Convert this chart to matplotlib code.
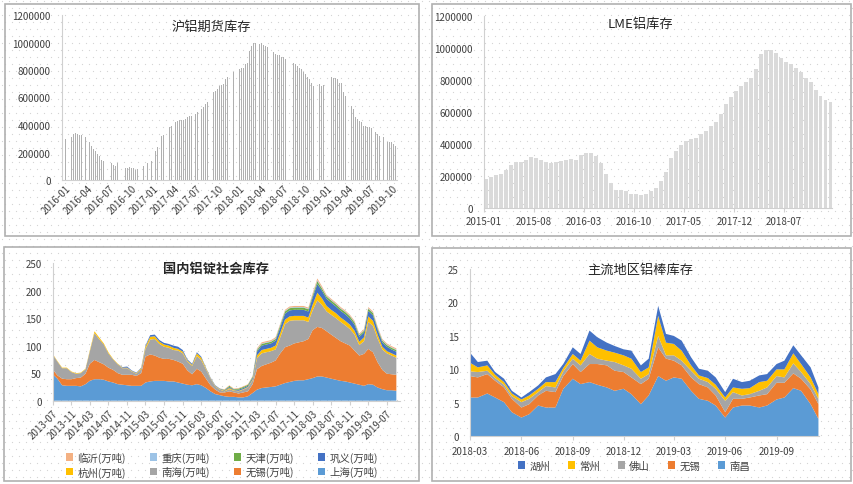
import numpy as np
import pandas as pd
import matplotlib

matplotlib.use("Agg")
import matplotlib.pyplot as plt
import matplotlib.dates as mdates
from matplotlib.patches import Rectangle, Patch
from matplotlib.ticker import FixedLocator, StrMethodFormatter

plt.rcParams["font.family"] = ["Noto Sans CJK SC", "DejaVu Sans"]
plt.rcParams["axes.unicode_minus"] = False

W, H = 854, 485

# ---- 沪铝期货库存 (thousand tonnes, 0 = no bar that week)
shfe_kt = [
    298, 0, 0, 310, 334, 341, 334, 329, 327, 0,
    310, 0, 274, 249, 225, 213, 189, 172, 148, 140,
    0, 0, 0, 121, 111, 104, 123, 0, 0, 0,
    85, 90, 94, 90, 85, 73, 80, 0, 0, 104,
    0, 123, 0, 140, 0, 213, 237, 0, 322, 327,
    0, 0, 383, 395, 0, 419, 431, 436, 436, 436,
    443, 455, 462, 467, 0, 479, 496, 0, 516, 528,
    552, 564, 0, 0, 637, 649, 661, 685, 690, 697,
    734, 746, 0, 0, 782, 0, 0, 806, 811, 818,
    843, 850, 939, 976, 995, 995, 0, 988, 993, 981,
    971, 964, 0, 0, 932, 915, 908, 908, 898, 891,
    879, 0, 0, 0, 850, 843, 830, 818, 806, 782,
    770, 751, 734, 709, 685, 0, 0, 697, 685, 690,
    0, 0, 0, 746, 741, 741, 734, 709, 705, 637,
    613, 0, 0, 540, 516, 455, 443, 431, 419, 395,
    390, 383, 383, 375, 0, 351, 334, 322, 0, 315,
    0, 278, 278, 274, 262, 249,
]
shfe_dates = pd.date_range("2016-01-01", "2019-10-15", periods=len(shfe_kt))

# ---- LME铝库存 (thousand tonnes)
lme_kt = [
    183, 194, 204, 215, 235, 267, 287, 287, 298, 319,
    313, 298, 287, 283, 287, 292, 298, 304, 298, 329,
    345, 345, 325, 280, 215, 155, 115, 112, 105, 85,
    88, 80, 88, 105, 125, 170, 225, 310, 355, 395,
    418, 430, 440, 460, 480, 510, 540, 590, 650, 695,
    730, 760, 790, 815, 870, 960, 990, 988, 970, 940,
    915, 900, 875, 848, 815, 785, 735, 700, 678, 663,
]
lme_dates = pd.date_range("2015-01-11", "2019-01-15", periods=len(lme_kt))

# ---- 国内铝锭社会库存 (万吨, monthly from 2013-07)
social_dates = pd.date_range("2013-07-01", periods=75, freq="MS")
shanghai = [
    48, 40, 28, 27, 27, 27, 26, 30, 36, 39, 39, 38, 35, 33, 30, 29, 28, 27, 27, 27,
    33, 35, 36, 36, 36, 35, 35, 33, 31, 29, 28, 30, 28, 23, 17, 12, 10, 8, 7, 7,
    6, 6, 8, 14, 20, 23, 24, 25, 26, 29, 32, 34, 36, 37, 37, 39, 41, 44, 44, 42,
    40, 38, 36, 35, 33, 31, 29, 27, 30, 29, 24, 21, 19, 19, 18,
]
wuxi = [
    9, 6, 12, 12, 12, 14, 16, 19, 31, 35, 31, 28, 25, 23, 20, 18, 19, 20, 18, 23,
    47, 49, 46, 42, 40, 41, 39, 38, 36, 26, 20, 28, 25, 17, 11, 8, 5, 7, 10, 8,
    7, 9, 9, 16, 37, 40, 42, 44, 47, 57, 65, 66, 68, 69, 71, 73, 87, 90, 88, 84,
    80, 76, 72, 69, 67, 60, 53, 58, 64, 59, 46, 35, 30, 29, 29,
]
nanhai = [
    27, 25, 19, 20, 13, 8, 8, 8, 22, 49, 42, 36, 26, 19, 16, 12, 12, 6, 4, 7,
    14, 27, 30, 25, 22, 20, 18, 20, 19, 16, 15, 23, 21, 17, 12, 6, 5, 2, 4, 3,
    4, 5, 7, 7, 20, 23, 22, 21, 20, 29, 42, 45, 42, 40, 38, 31, 36, 48, 42, 36,
    36, 36, 35, 33, 30, 29, 19, 23, 49, 48, 43, 37, 37, 34, 31,
]
hangzhou = [
    1, 1, 1, 1, 1, 1, 1, 1, 2, 3, 3, 2, 2, 1, 1, 1, 1, 1, 1, 2,
    4, 5, 5, 4, 4, 4, 4, 3, 3, 2, 2, 5, 4, 2, 1, 1, 1, 1, 2, 1,
    1, 1, 1, 2, 5, 6, 6, 6, 7, 8, 8, 8, 8, 8, 8, 8, 10, 14, 12, 10,
    9, 9, 8, 8, 8, 7, 6, 7, 10, 9, 7, 5, 4, 4, 4,
]
gongyi = [
    0, 0, 0, 0, 0, 0, 0, 0, 0, 0, 0, 0, 0, 0, 0, 1, 2, 1, 1, 1,
    2, 3, 3, 3, 3, 3, 4, 4, 3, 2, 2, 2, 2, 1, 1, 1, 1, 1, 2, 1,
    2, 2, 2, 3, 7, 8, 8, 8, 9, 10, 11, 11, 11, 11, 11, 11, 13, 16, 14, 13,
    13, 12, 12, 12, 11, 11, 9, 9, 10, 10, 9, 8, 8, 7, 7,
]
tianjin = [
    0, 0, 0, 0, 0, 0, 0, 0, 0, 0, 0, 0, 0, 0, 0, 0, 0, 0, 0, 0,
    0, 0, 0, 0, 0, 0, 0, 0, 0, 0, 0, 0, 0, 0, 0, 0, 0, 1, 2, 1,
    2, 2, 2, 2, 3, 3, 3, 3, 3, 4, 4, 4, 4, 4, 4, 4, 4, 5, 4, 4,
    4, 4, 4, 4, 4, 4, 3, 3, 4, 4, 3, 3, 3, 3, 3,
]
chongqing = [
    0, 0, 0, 0, 0, 0, 0, 0, 0, 0, 0, 0, 0, 0, 0, 0, 0, 0, 0, 0,
    0, 0, 0, 0, 0, 0, 0, 0, 0, 0, 0, 0, 0, 0, 0, 0, 0, 0, 0, 0,
    0, 0, 0, 0, 1, 1, 1, 1, 1, 1, 1, 1, 1, 1, 1, 1, 1, 2, 1, 1,
    1, 1, 1, 1, 1, 1, 1, 1, 1, 1, 1, 1, 1, 1, 1,
]
linyi = [
    0, 0, 0, 0, 0, 0, 0, 0, 0, 0, 0, 0, 0, 0, 0, 0, 0, 0, 0, 0,
    0, 0, 0, 0, 0, 0, 0, 0, 0, 0, 0, 0, 0, 0, 0, 0, 0, 1, 1, 1,
    1, 1, 1, 1, 2, 2, 2, 2, 2, 2, 2, 2, 2, 2, 2, 2, 3, 3, 3, 2,
    2, 2, 2, 2, 2, 2, 2, 2, 2, 2, 2, 2, 2, 2, 2,
]
social_names = ["上海(万吨)", "无锡(万吨)", "南海(万吨)", "杭州(万吨)",
                "巩义(万吨)", "天津(万吨)", "重庆(万吨)", "临沂(万吨)"]
social_colors = ["#5b9bd5", "#ed7d31", "#a5a5a5", "#ffc000",
                 "#4472c4", "#70ad47", "#9dc3e6", "#f4b183"]

# ---- 主流地区铝棒库存 (万吨, twice a month from 2018-03)
bar_dates = pd.date_range("2018-03-01", periods=42, freq="SMS")
nanchang = [
    5.8, 5.8, 6.4, 5.8, 5.1, 3.6, 2.8, 3.3, 4.6, 4.3, 4.3, 7.1, 8.6, 7.8,
    8.1, 7.7, 7.3, 6.8, 7.1, 6.3, 4.8, 6.1, 9.0, 8.3, 8.8, 8.6, 6.8, 5.6,
    5.3, 4.6, 2.8, 4.3, 4.6, 4.6, 4.3, 4.6, 5.5, 5.8, 7.2, 6.8, 4.8, 2.6,
]
wuxi_bar = [
    3.2, 3.0, 2.9, 2.5, 2.2, 2.0, 1.5, 1.5, 1.5, 2.5, 2.3, 1.9, 2.2, 1.8,
    2.7, 3.1, 3.3, 3.0, 2.5, 2.5, 3.0, 2.5, 4.3, 3.3, 2.5, 2.0, 2.0, 2.2,
    2.0, 1.5, 0.8, 1.3, 1.0, 1.2, 1.8, 1.7, 2.5, 2.2, 2.2, 1.8, 2.2, 2.2,
]
foshan = [
    0.7, 0.8, 0.5, 0.4, 0.4, 0.4, 0.8, 0.8, 0.5, 0.7, 0.7, 0.7, 0.8, 1.0,
    1.5, 0.8, 0.7, 1.3, 1.0, 1.3, 0.8, 0.7, 1.7, 0.5, 0.8, 0.7, 1.0, 0.8,
    0.8, 1.0, 1.7, 1.0, 0.5, 0.5, 0.7, 1.0, 1.0, 0.8, 1.5, 1.0, 0.8, 0.8,
]
changzhou = [
    1.3, 0.7, 0.8, 0.5, 0.4, 0.4, 0.4, 0.5, 0.5, 0.6, 0.8, 0.5, 0.7, 0.7,
    2.0, 1.7, 1.5, 1.4, 1.5, 1.5, 1.0, 1.0, 3.0, 1.9, 1.7, 1.5, 0.8, 0.5,
    0.6, 0.6, 0.5, 0.7, 1.0, 0.9, 1.3, 1.0, 1.0, 1.2, 1.5, 1.2, 1.0, 0.7,
]
huzhou = [
    1.5, 0.8, 0.7, 0.4, 0.5, 0.4, 0.3, 0.5, 0.5, 0.7, 1.2, 0.6, 1.0, 1.0,
    1.5, 1.5, 1.2, 1.0, 0.9, 1.2, 1.0, 1.3, 1.5, 1.3, 1.2, 1.5, 1.2, 1.0,
    1.1, 1.1, 0.8, 1.3, 1.0, 1.1, 1.0, 1.0, 0.8, 1.3, 1.2, 1.3, 1.5, 1.0,
]
bar_names = ["南昌", "无锡", "佛山", "常州", "湖州"]
bar_colors = ["#5b9bd5", "#ed7d31", "#a5a5a5", "#ffc000", "#4472c4"]

TEXT = "#404040"
AXIS = "#d0d0d0"


def box(x0, y0, x1, y1):
    return [x0 / W, 1 - y1 / H, (x1 - x0) / W, (y1 - y0) / H]


def style(ax, ymax, step):
    ax.set_facecolor("none")
    for side in ("top", "right"):
        ax.spines[side].set_visible(False)
    for side in ("left", "bottom"):
        ax.spines[side].set_color(AXIS)
    ax.set_ylim(0, ymax)
    ax.set_yticks(np.arange(0, ymax + step / 2, step))
    ax.yaxis.set_major_formatter(StrMethodFormatter("{x:.0f}"))
    ax.tick_params(axis="y", length=0, labelsize=7, labelcolor=TEXT, pad=8)
    ax.tick_params(axis="x", length=3, color=AXIS, labelsize=7, labelcolor=TEXT)


fig = plt.figure(figsize=(W / 100, H / 100), dpi=100)

# background dots and panel frames
bg = fig.add_axes([0, 0, 1, 1], zorder=-10)
bg.set_xlim(0, W)
bg.set_ylim(H, 0)
bg.axis("off")
gx, gy = np.meshgrid(np.arange(2, W, 7.0), np.arange(2, H, 7.0))
gx = gx + (np.arange(gx.shape[0])[:, None] % 2) * 3.5
bg.scatter(gx.ravel(), gy.ravel(), s=0.8, color="#d4d4d4", linewidths=0)
for x0, y0, x1, y1 in [(5, 5, 419, 237), (432, 5, 851, 237), (4, 248, 419, 482), (432, 249, 851, 482)]:
    bg.add_patch(Rectangle((x0, y0), x1 - x0, y1 - y0, fill=False, edgecolor="#b0b0b0", linewidth=1.2))

# panel 1
ax1 = fig.add_axes(box(62, 16, 397, 181))
ax1.bar(shfe_dates, np.array(shfe_kt) * 1000, width=4.5, color="#b0b0b0", linewidth=0)
style(ax1, 1200000, 200000)
ax1.set_xlim(pd.Timestamp("2015-12-16"), pd.Timestamp("2019-10-21"))
ax1.xaxis.set_major_locator(mdates.MonthLocator(bymonth=(1, 4, 7, 10)))
ax1.xaxis.set_major_formatter(mdates.DateFormatter("%Y-%m"))
ax1.tick_params(axis="x", length=0, pad=2)
plt.setp(ax1.get_xticklabels(), rotation=45, ha="right", rotation_mode="anchor")
fig.text(211 / W, 1 - 27 / H, "沪铝期货库存", ha="center", va="center", fontsize=9.5, color="#262626")

# panel 2
ax2 = fig.add_axes(box(484, 17, 832, 209))
ax2.bar(lme_dates, np.array(lme_kt) * 1000, width=16, color="#dadada", linewidth=0)
style(ax2, 1200000, 200000)
ax2.set_xlim(pd.Timestamp("2015-01-01"), pd.Timestamp("2019-01-21"))
lme_ticks = pd.date_range("2015-01-01", periods=7, freq="7MS")
ax2.xaxis.set_major_locator(FixedLocator(mdates.date2num(lme_ticks)))
ax2.xaxis.set_major_formatter(mdates.DateFormatter("%Y-%m"))
ax2.tick_params(axis="x", pad=3)
fig.text(640 / W, 1 - 24 / H, "LME铝库存", ha="center", va="center", fontsize=9.5, color="#262626")

# panel 3
ax3 = fig.add_axes(box(52.7, 264, 400, 401.7))
social = [shanghai, wuxi, nanhai, hangzhou, gongyi, tianjin, chongqing, linyi]
ax3.stackplot(social_dates, *social, colors=social_colors, linewidth=0)
style(ax3, 250, 50)
ax3.set_xlim(pd.Timestamp("2013-07-01"), pd.Timestamp("2019-09-25"))
ax3.xaxis.set_major_locator(mdates.MonthLocator(bymonth=(3, 7, 11)))
ax3.xaxis.set_major_formatter(mdates.DateFormatter("%Y-%m"))
ax3.tick_params(axis="x", pad=2)
plt.setp(ax3.get_xticklabels(), rotation=45, ha="right", rotation_mode="anchor")
fig.text(216 / W, 1 - 269 / H, "国内铝锭社会库存", ha="center", va="center", fontsize=9.5,
         color="#262626", fontweight="bold")
handles = {n: Patch(facecolor=c) for n, c in zip(social_names, social_colors)}
order = ["临沂(万吨)", "杭州(万吨)", "重庆(万吨)", "南海(万吨)",
         "天津(万吨)", "无锡(万吨)", "巩义(万吨)", "上海(万吨)"]
fig.legend([handles[n] for n in order], order, ncol=4, loc="center",
           bbox_to_anchor=(222 / W, 1 - 465.5 / H), frameon=False, fontsize=7.5,
           handlelength=0.7, handleheight=0.7, handletextpad=0.4, columnspacing=2.3,
           labelspacing=0.35, labelcolor=TEXT)

# panel 4
ax4 = fig.add_axes(box(470, 270, 819, 437.3))
rods = [nanchang, wuxi_bar, foshan, changzhou, huzhou]
ax4.stackplot(bar_dates, *rods, colors=bar_colors, linewidth=0)
style(ax4, 25, 5)
ax4.set_xlim(pd.Timestamp("2018-03-01"), pd.Timestamp("2019-11-16"))
ax4.xaxis.set_major_locator(mdates.MonthLocator(bymonth=(3, 6, 9, 12)))
ax4.xaxis.set_major_formatter(mdates.DateFormatter("%Y-%m"))
ax4.tick_params(axis="x", pad=4)
fig.text(640 / W, 1 - 270 / H, "主流地区铝棒库存", ha="center", va="center", fontsize=9.5, color="#262626")
h4 = [Patch(facecolor=c) for c in bar_colors][::-1]
fig.legend(h4, bar_names[::-1], ncol=5, loc="center", bbox_to_anchor=(634 / W, 1 - 466.7 / H),
           frameon=False, fontsize=7.5, handlelength=0.7, handleheight=0.7, handletextpad=0.4,
           columnspacing=1.7, labelcolor=TEXT)

fig.savefig("out.png", dpi=100)
